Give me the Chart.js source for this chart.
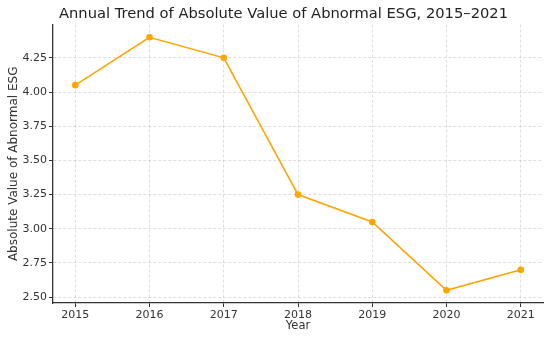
<!DOCTYPE html>
<html>
<head>
<meta charset="utf-8">
<script src="https://cdn.jsdelivr.net/npm/chart.js@4/dist/chart.umd.min.js"></script>
<style>
  html, body { margin: 0; padding: 0; background: #fff; }
  #wrap { width: 550px; height: 338px; }
</style>
</head>
<body>
<div id="wrap"><canvas id="chart"></canvas></div>
<script>
// values
const years = [2015, 2016, 2017, 2018, 2019, 2020, 2021];
const absAbnormalESG = [4.05, 4.40, 4.25, 3.25, 3.05, 2.55, 2.70];
const yTicks = [2.50, 2.75, 3.00, 3.25, 3.50, 3.75, 4.00, 4.25];

const axisColor = '#333';
const gridColor = 'rgba(0, 0, 0, 0.13)';
const font = 'DejaVu Sans';

const points = years.map((y, i) => ({ x: y, y: absAbnormalESG[i] }));

// matplotlib centres the title a bit right of the canvas centre
const shiftTitle = {
    id: 'shiftTitle',
    afterLayout(chart) {
        if (chart.titleBlock) chart.titleBlock.left += 24;
    }
};

new Chart(document.getElementById('chart'), {
    type: 'line',
    data: {
        datasets: [{
            label: 'Absolute Value of Abnormal ESG',
            data: points,
            borderColor: '#FFA500',
            backgroundColor: '#FFA500',
            borderWidth: 1.6,
            pointRadius: 3.3,
            pointBorderWidth: 0,
            tension: 0
        }]
    },
    plugins: [shiftTitle],
    options: {
        responsive: true,
        maintainAspectRatio: false,
        animation: false,
        layout: { padding: { left: 0, right: 7, top: 0, bottom: 0 } },
        plugins: {
            legend: { display: false },
            tooltip: { enabled: false },
            title: {
                display: true,
                text: 'Annual Trend of Absolute Value of Abnormal ESG, 2015\u20132021',
                color: '#222',
                font: { family: font, size: 14.7, weight: 'normal' },
                padding: { top: 5, bottom: 2 }
            }
        },
        scales: {
            x: {
                type: 'linear',
                min: 2014.7,
                max: 2021.3,
                afterFit: s => { s.height = 35; },
                ticks: {
                    stepSize: 1,
                    includeBounds: false,
                    color: axisColor,
                    padding: 2,
                    maxRotation: 0,
                    font: { family: font, size: 11 },
                    callback: v => String(v)
                },
                grid: {
                    color: gridColor,
                    tickColor: axisColor,
                    tickLength: 4,
                    tickWidth: 1
                },
                border: { color: axisColor, width: 1.3, dash: [3, 2] },
                title: {
                    display: true,
                    text: 'Year',
                    color: axisColor,
                    font: { family: font, size: 11.5 },
                    padding: { top: 0, bottom: 5 }
                }
            },
            y: {
                min: 2.4575,
                max: 4.4925,
                afterFit: s => { s.width = 53; },
                afterBuildTicks: s => { s.ticks = yTicks.map(v => ({ value: v })); },
                ticks: {
                    color: axisColor,
                    padding: 2,
                    font: { family: font, size: 11 },
                    callback: v => v.toFixed(2)
                },
                grid: {
                    color: gridColor,
                    tickColor: axisColor,
                    tickLength: 4,
                    tickWidth: 1
                },
                border: { color: axisColor, width: 1.3, dash: [3, 2] },
                title: {
                    display: true,
                    text: 'Absolute Value of Abnormal ESG',
                    color: axisColor,
                    font: { family: font, size: 12 },
                    padding: { top: 7, bottom: 0 }
                }
            }
        }
    }
});
</script>
</body>
</html>
